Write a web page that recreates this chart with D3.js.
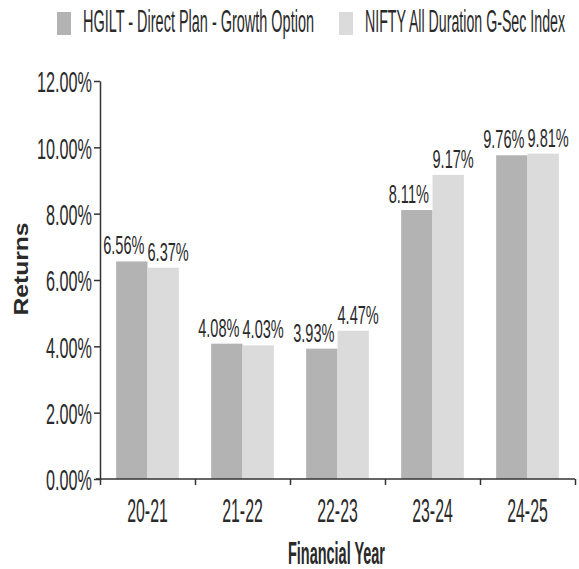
<!DOCTYPE html>
<html>
<head>
<meta charset="utf-8">
<script src="https://cdn.jsdelivr.net/npm/d3@7"></script>
<style>
  body { margin: 0; background: #fff; }
  svg text { font-family: "Liberation Sans", Arial, sans-serif; fill: #2a2a2a; }
</style>
</head>
<body>
<svg id="chart" width="579" height="569"></svg>
<script>
'use strict';

var years = ['20-21', '21-22', '22-23', '23-24', '24-25']
var seriesNames = ['HGILT - Direct Plan - Growth Option', 'NIFTY All Duration G-Sec Index']
var fundReturns = [6.56, 4.08, 3.93, 8.11, 9.76]
var indexReturns = [6.37, 4.03, 4.47, 9.17, 9.81]
var yTicks = [0, 2, 4, 6, 8, 10, 12]
var colors = ['#b3b3b3', '#dbdbdb']

var svg = d3.select('#chart')

// squeeze text horizontally to look like the condensed face of the original
function squeeze(sel, k) {
    sel.each(function() {
        var len = this.getComputedTextLength()
        d3.select(this).attr('textLength', len * k).attr('lengthAdjust', 'spacingAndGlyphs')
    })
}

var x = d3.scaleBand().domain(years).range([100, 575]).paddingInner(0.34).paddingOuter(0.17)
var xSub = d3.scaleBand().domain([0, 1]).range([0, x.bandwidth()])
var y = d3.scaleLinear().domain([0, 12]).range([479, 81])
var edges = d3.scaleLinear().domain([0, years.length]).range([100, 575])

var data = years.map(function(yr, i) {
    return { year: yr, values: [fundReturns[i], indexReturns[i]] }
})

// bars
var groups = svg.append('g').selectAll('g')
    .data(data)
    .enter().append('g')
    .attr('transform', function(d) { return 'translate(' + x(d.year) + ',0)' })

groups.selectAll('rect')
    .data(function(d) { return d.values.map(function(v, j) { return { v: v, s: j } }) })
    .enter().append('rect')
    .attr('x', function(d) { return xSub(d.s) })
    .attr('width', xSub.bandwidth())
    .attr('y', function(d) { return y(d.v) })
    .attr('height', function(d) { return y(0) - y(d.v) })
    .attr('fill', function(d) { return colors[d.s] })

var labels = groups.selectAll('text')
    .data(function(d) { return d.values.map(function(v, j) { return { v: v, s: j } }) })
    .enter().append('text')
    .attr('x', function(d) { return xSub(d.s) + xSub.bandwidth() / 2 + (d.s === 0 ? -8 : 5) })
    .attr('y', function(d) { return y(d.v) - 7 })
    .attr('text-anchor', 'middle')
    .style('font-size', '26px')
    .text(function(d) { return d.v.toFixed(2) + '%' })
squeeze(labels, 0.56)

// y axis
var yAxis = svg.append('g')
    .attr('transform', 'translate(100,0)')
    .call(d3.axisLeft(y).tickValues(yTicks).tickSize(6).tickSizeOuter(0).tickPadding(2)
        .tickFormat(function(d) { return d.toFixed(2) + '%' }))
yAxis.selectAll('path, line').attr('stroke', '#333').attr('stroke-width', 1.5)
var yLabels = yAxis.selectAll('text')
    .attr('fill', '#2a2a2a')
    .style('font-size', '30px')
    .attr('dy', '0.36em')
squeeze(yLabels, 0.54)

// x axis: ticks at band edges, labels at band centres
var xEdges = svg.append('g')
    .attr('transform', 'translate(0,479)')
    .call(d3.axisBottom(edges).ticks(years.length).tickSize(6).tickSizeOuter(0).tickFormat(''))
xEdges.select('.domain').attr('d', 'M96,0H575')
xEdges.selectAll('path, line').attr('stroke', '#333').attr('stroke-width', 1.5)

var xLabels = svg.append('g')
    .attr('transform', 'translate(0,479)')
    .call(d3.axisBottom(x).tickSize(0).tickPadding(0))
xLabels.select('.domain').remove()
var xText = xLabels.selectAll('text')
    .attr('fill', '#2a2a2a')
    .style('font-size', '33px')
    .attr('y', 43)
    .attr('dy', 0)
squeeze(xText, 0.48)

// axis titles
var yTitle = svg.append('text')
    .attr('transform', 'translate(28,269) rotate(-90)')
    .attr('text-anchor', 'middle')
    .style('font-size', '20px')
    .style('font-weight', 'bold')
    .text('Returns')
yTitle.attr('textLength', 93).attr('lengthAdjust', 'spacingAndGlyphs')

var xTitle = svg.append('text')
    .attr('x', 336.5)
    .attr('y', 564)
    .attr('text-anchor', 'middle')
    .style('font-size', '32px')
    .style('font-weight', 'bold')
    .text('Financial Year')
xTitle.attr('textLength', 97).attr('lengthAdjust', 'spacingAndGlyphs')

// legend
var legendX = [57, 339]
var legendW = [231, 200]
var legend = svg.append('g').selectAll('g')
    .data(seriesNames)
    .enter().append('g')
    .attr('transform', function(d, i) { return 'translate(' + legendX[i] + ',0)' })

legend.append('rect')
    .attr('x', 0)
    .attr('y', 12)
    .attr('width', 14)
    .attr('height', 23)
    .attr('fill', function(d, i) { return colors[i] })

legend.append('text')
    .attr('x', 26)
    .attr('y', 32)
    .style('font-size', '31px')
    .attr('textLength', function(d, i) { return legendW[i] })
    .attr('lengthAdjust', 'spacingAndGlyphs')
    .text(function(d) { return d })
</script>
</body>
</html>
